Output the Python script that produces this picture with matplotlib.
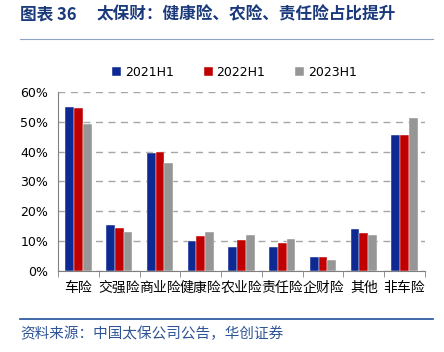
import matplotlib
matplotlib.use("Agg")
import matplotlib.pyplot as plt
import numpy as np

plt.rcParams["font.family"] = ["Noto Sans CJK SC", "DejaVu Sans"]

categories = ["车险", "交强险", "商业险", "健康险", "农业险", "责任险", "企财险", "其他", "非车险"]
series_names = ["2021H1", "2022H1", "2023H1"]
v2021 = [54.9, 15.4, 39.5, 10.1, 8.2, 8.2, 4.7, 14.0, 45.4]
v2022 = [54.5, 14.5, 40.0, 11.8, 10.4, 9.3, 4.6, 12.7, 45.7]
v2023 = [49.3, 13.0, 36.3, 13.0, 12.2, 10.8, 3.7, 12.1, 51.3]
colors = ["#0E2A92", "#C00000", "#969696"]

fig = plt.figure(figsize=(4.44, 3.52), dpi=100)
ax = fig.add_axes([0.1306, 0.230, 0.8264, 0.509])

x = np.arange(len(categories))
w = 0.215
for i, (vals, name, c) in enumerate(zip([v2021, v2022, v2023], series_names, colors)):
    ax.bar(x + (i - 1) * w, vals, width=w, color=c, label=name,
           edgecolor="white", linewidth=0.3, zorder=3)

ax.set_xlim(-0.5, len(categories) - 0.5)
ax.set_ylim(0, 60)
ax.set_yticks(range(0, 61, 10))
ax.set_yticklabels([f"{t}%" for t in range(0, 61, 10)], fontsize=9, family=["DejaVu Sans"])
ax.grid(axis="y", color="#A6A6A6", linestyle=(0, (5, 4)), linewidth=1.0, zorder=0)

ax.set_xticks(x)
ax.set_xticklabels(categories, fontsize=10)
ax.set_xticks(np.arange(-0.5, len(categories)), minor=True)
ax.tick_params(axis="x", which="major", length=0, pad=7)
ax.tick_params(axis="x", which="minor", length=4, color="#808080")
ax.tick_params(axis="y", length=0, pad=7)
for s in ["top", "right"]:
    ax.spines[s].set_visible(False)
for s in ["left", "bottom"]:
    ax.spines[s].set_color("#808080")
    ax.spines[s].set_linewidth(0.8)

ax.legend(loc="lower center", bbox_to_anchor=(0.481, 1.01), ncol=3, frameon=False,
          handlelength=0.7, handleheight=0.7, handletextpad=0.3,
          columnspacing=2.4, prop={"family": ["DejaVu Sans"], "size": 9})

fig.text(0.045, 0.96, "图表 36", fontsize=12, fontweight="bold", color="#1B3A7C",
         va="center", ha="left")
fig.text(0.218, 0.96, "太保财：健康险、农险、责任险占比提升", fontsize=12,
         fontweight="bold", color="#1B3A7C", va="center", ha="left")
fig.add_artist(plt.Line2D([0.045, 0.975], [0.889, 0.889], color="#8EA3C4", linewidth=0.8))
fig.add_artist(plt.Line2D([0.045, 0.975], [0.094, 0.094], color="#1F4E9A", linewidth=1.2))
fig.text(0.045, 0.052, "资料来源：中国太保公司公告，华创证券", fontsize=10.5,
         color="#2F5597", va="center", ha="left", style="italic")

fig.savefig("out.png", dpi=100)
